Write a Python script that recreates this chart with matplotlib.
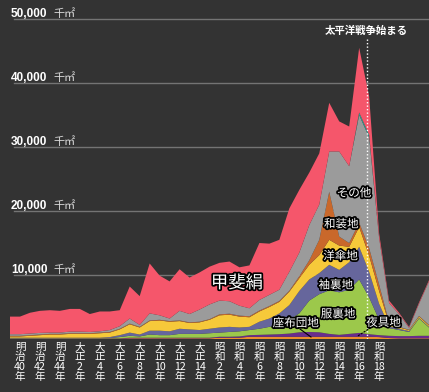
import matplotlib
matplotlib.use("Agg")
import matplotlib.pyplot as plt
import matplotlib.patheffects as pe
import numpy as np

plt.rcParams['font.family'] = ['Noto Sans CJK JP', 'DejaVu Sans']

years = list(range(1906, 1949))

# layer values (thousand m2), bottom to top
zabuton = [0.05]*12 + [0.1]*9 + [0.2]*3 + [0.35]*13 + [0.3, 0.15, 0.1, 0.1, 0.1, 0.1]
yagu = [0.05]*12 + [0.1]*9 + [0.15, 0.15, 0.2, 0.25, 0.3, 0.35, 0.4, 0.5, 0.7, 0.75, 0.7,
                               0.45, 0.3, 0.45, 0.6, 0.4, 0.3, 0.35, 0.35, 0.35, 0.4, 0.4]
fukuura = [0.05]*11 + [0.2, 0.3, 0.2, 0.5, 0.4, 0.4, 0.6, 0.6, 0.6, 0.7, 0.65, 0.75, 0.8, 0.8,
                       0.95, 1.2, 1.45, 2.15, 2.95, 4.9, 5.95, 6.8, 6.65, 6.9, 8.35, 5.75, 2.4,
                       1.2, 0.95, 0.65, 2.7, 1.3]
sodeura = [0.05]*10 + [0.15, 0.3, 0.5, 0.3, 0.6, 0.7, 0.6, 0.8, 0.7, 0.6, 0.7, 0.8, 0.8, 0.6,
                       0.5, 1.1, 1.3, 1.8, 2.3, 3.5, 3.3, 3.3, 4.0, 3.5, 4.3, 5.1, 4.0, 2.5,
                       0.3, 0.2, 0.15, 0.1, 0.1]
yougasa = [0.2, 0.2, 0.3, 0.4, 0.5, 0.5, 0.6, 0.6, 0.6, 0.7, 0.7, 0.9, 1.3, 1.1, 1.5, 1.6,
           1.5, 1.2, 1.0, 1.2, 1.4, 1.9, 1.9, 1.7, 1.5, 1.6, 1.8, 1.8, 2.1, 2.0, 2.3, 2.8,
           3.9, 3.8, 2.4, 3.1, 2.5, 2.0, 0.4, 0.2, 0.15, 0.2, 0.2]
wasou = [0.1]*21 + [0.15]*8 + [0.3, 0.7, 2.4, 7.5, 1.4, 0.6, 0.7, 1.2, 1.0, 0.2, 0.1, 0.05,
                               0.1, 0.1]
sonota = [0.25, 0.25, 0.25, 0.25, 0.2, 0.2, 0.25, 0.25, 0.2, 0.2, 0.3, 0.4, 0.8, 0.3, 1.1,
          0.7, 0.4, 1.5, 1.3, 1.9, 2.3, 2.15, 1.95, 1.55, 1.25, 1.65, 1.75, 1.75, 2.95, 3.7,
          5.5, 5.5, 6.3, 13.3, 12.0, 16.8, 17.3, 7.3, 3.0, 2.0, 0.3, 1.9, 6.8]
teal = [0.0]*35 + [0.4, 0.4] + [0.0]*6
kaiki = [2.75, 2.75, 3.25, 3.45, 3.5, 3.4, 3.55, 3.55, 2.8, 3.1, 2.9, 2.5, 5.0, 4.5, 7.8,
         6.2, 5.8, 6.5, 5.7, 5.8, 5.9, 5.9, 6.2, 6.0, 6.7, 8.9, 8.0, 7.8, 9.9, 9.8, 8.2,
         8.0, 7.6, 4.7, 6.2, 10.1, 6.0, 0.7, 0.4, 0.2, 0.15, 0.2, 0.2]

series = [zabuton, yagu, fukuura, sodeura, yougasa, wasou, sonota, teal, kaiki]
colors = ['#ec8f2d', '#6a2c8c', '#9cc84b', '#66669c', '#f6c93a', '#c9682b', '#9b9b9b',
          '#2a9d8f', '#f5566b']

ytick_vals = [10000, 20000, 30000, 40000, 50000]
ytick_labels = ['10,000', '20,000', '30,000', '40,000', '50,000']
xtick_years = list(range(1907, 1944, 2))
xtick_labels = ['明\n治\n40\n年', '明\n治\n42\n年', '明\n治\n44\n年',
                '大\n正\n2\n年', '大\n正\n4\n年', '大\n正\n6\n年', '大\n正\n8\n年',
                '大\n正\n10\n年', '大\n正\n12\n年', '大\n正\n14\n年',
                '昭\n和\n2\n年', '昭\n和\n4\n年', '昭\n和\n6\n年', '昭\n和\n8\n年',
                '昭\n和\n10\n年', '昭\n和\n12\n年', '昭\n和\n14\n年', '昭\n和\n16\n年',
                '昭\n和\n18\n年']

BG = '#333333'
fig = plt.figure(figsize=(4.29, 3.92), dpi=100)
fig.patch.set_facecolor(BG)
ax = fig.add_axes([10/429, 53/392, 419/429, 339/392])
ax.set_facecolor(BG)
ax.set_xlim(1906, 1948)
ax.set_ylim(0, 52968.75)
ax.axis('off')

for v in ytick_vals:
    ax.plot([1906.4, 1948], [v, v], color='#747474', lw=1.0, zorder=0)

data_k = [np.array(s) * 1000 for s in series]
ax.stackplot(years, *data_k, colors=colors, zorder=2, lw=0)

stroke = [pe.withStroke(linewidth=2.5, foreground='black')]
for v, lab in zip(ytick_vals, ytick_labels):
    ax.text(1906.1, v + 350, lab, color='white', fontsize=8.5, fontweight='bold',
            family=['Liberation Sans'], va='baseline', ha='left', zorder=5)
    ax.text(1910.4, v + 350, '千㎡', color='#dddddd', fontsize=8,
            va='baseline', ha='left', zorder=5)

tr = ax.get_xaxis_transform()
for yr, lab in zip(xtick_years, xtick_labels):
    ax.text(yr, -0.010, lab, transform=tr, color='white', fontsize=7.6, ha='center',
            va='top', linespacing=0.98, clip_on=False)

# war line
war_x = 1941.74
ax.plot([war_x, war_x], [0, 47000], color='white', lw=1, ls=(0, (1, 1.5)), zorder=4)
ax.text(war_x - 0.05, 48100, '太平洋戦争始まる', color='white', fontsize=7.5,
        fontweight='bold', ha='center', va='center', zorder=5)

labels = [('甲斐絹', 1928.75, 8750, 12.5), ('その他', 1940.48, 22810, 8.3),
          ('和装地', 1939.2, 17970, 8.3), ('洋傘地', 1939.13, 12970, 8.3),
          ('袖裏地', 1938.65, 8440, 8.3), ('服裏地', 1938.88, 3900, 8.3),
          ('座布団地', 1934.64, 2500, 8.3), ('夜具地', 1943.44, 2580, 8.3)]
for t, x, y, fs in labels:
    ax.text(x, y, t, color='white', fontsize=fs, ha='center', va='center',
            path_effects=stroke, zorder=6)

ax.plot([1935.07, 1936.17], [1560, 310], color='black', lw=0.8, zorder=5)
ax.plot([1942.19, 1940.78], [1800, 390], color='black', lw=0.8, ls=(0, (2, 1)), zorder=5)

fig.savefig('out.png', dpi=100, facecolor=BG)
